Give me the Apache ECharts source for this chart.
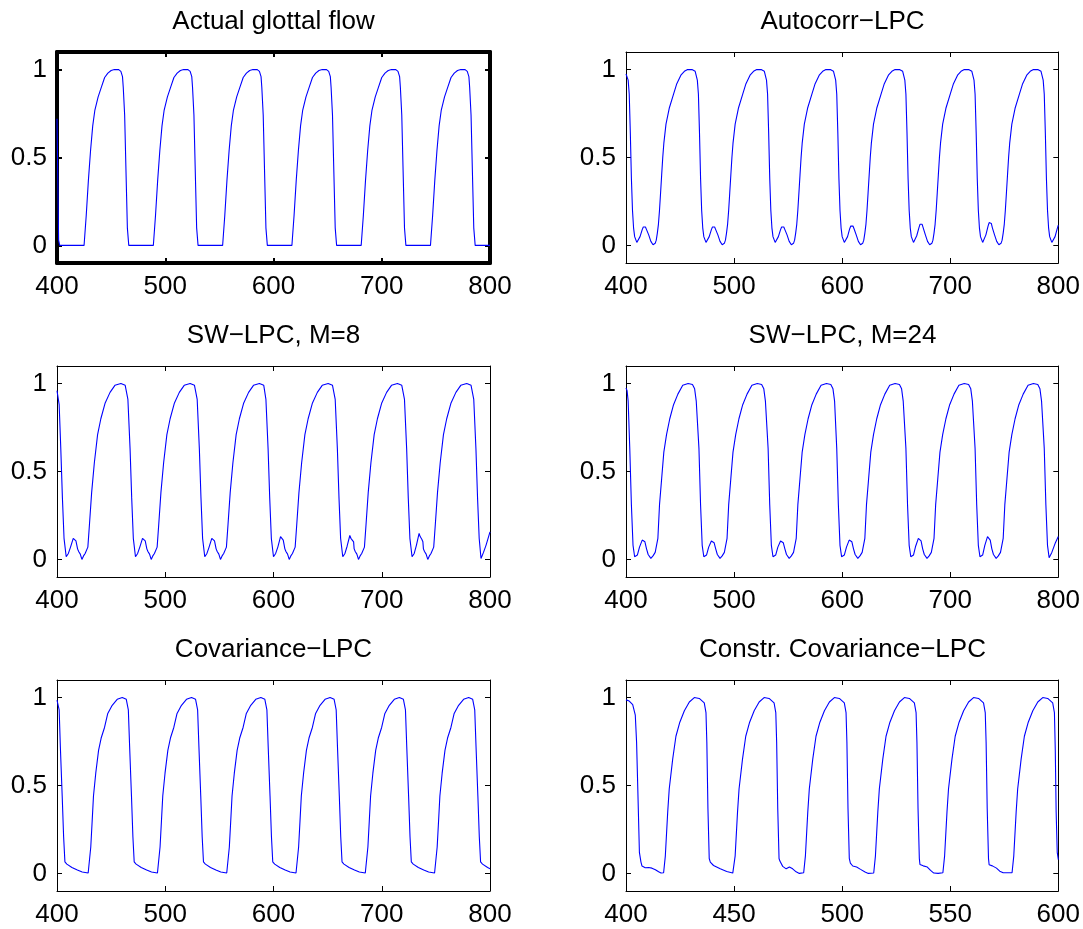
<!DOCTYPE html>
<html>
<head>
<meta charset="utf-8">
<script src="https://cdn.jsdelivr.net/npm/echarts@6/dist/echarts.min.js"></script>
<style>
    html, body { margin: 0; padding: 0; background: #ffffff; }
    #chart { width: 1083px; height: 929px; }
</style>
</head>
<body>
<div id="chart"></div>
<script>
    // titles and axis ranges of the six panels (row by row)
    const titles = ['Actual glottal flow', 'Autocorr\u2212LPC', 'SW\u2212LPC, M=8', 'SW\u2212LPC, M=24', 'Covariance\u2212LPC', 'Constr. Covariance\u2212LPC']
    const xRanges = [[400, 800], [400, 800], [400, 800], [400, 800], [400, 800], [400, 600]]
    const xIntervals = [100, 100, 100, 100, 100, 50]
    const yRange = [-0.1, 1.1]
    const yTickValues = [0, 0.5, 1]

    // [sample, value]
    const glottalFlow = [
        [400, 0.72], [401.5, 0.03], [402.5, 0],
        [425, 0], [427, 0.17], [429, 0.37], [431, 0.54], [433, 0.68], [435, 0.77], [438, 0.845], [441, 0.9], [444, 0.955], [447, 0.98], [450, 0.995], [453, 1], [457, 1], [459, 0.99], [460.5, 0.96], [461.2, 0.9], [462.5, 0.74], [463.7, 0.43], [465, 0.1], [466.3, 0],
        [489, 0], [491, 0.17], [493, 0.37], [495, 0.54], [497, 0.68], [499, 0.77], [502, 0.845], [505, 0.9], [508, 0.955], [511, 0.98], [514, 0.995], [517, 1], [521, 1], [523, 0.99], [524.5, 0.96], [525.2, 0.9], [526.5, 0.74], [527.7, 0.43], [529, 0.1], [530.3, 0],
        [553, 0], [555, 0.17], [557, 0.37], [559, 0.54], [561, 0.68], [563, 0.77], [566, 0.845], [569, 0.9], [572, 0.955], [575, 0.98], [578, 0.995], [581, 1], [585, 1], [587, 0.99], [588.5, 0.96], [589.2, 0.9], [590.5, 0.74], [591.7, 0.43], [593, 0.1], [594.3, 0],
        [617, 0], [619, 0.17], [621, 0.37], [623, 0.54], [625, 0.68], [627, 0.77], [630, 0.845], [633, 0.9], [636, 0.955], [639, 0.98], [642, 0.995], [645, 1], [649, 1], [651, 0.99], [652.5, 0.96], [653.2, 0.9], [654.5, 0.74], [655.7, 0.43], [657, 0.1], [658.3, 0],
        [681, 0], [683, 0.17], [685, 0.37], [687, 0.54], [689, 0.68], [691, 0.77], [694, 0.845], [697, 0.9], [700, 0.955], [703, 0.98], [706, 0.995], [709, 1], [713, 1], [715, 0.99], [716.5, 0.96], [717.2, 0.9], [718.5, 0.74], [719.7, 0.43], [721, 0.1], [722.3, 0],
        [745, 0], [747, 0.17], [749, 0.37], [751, 0.54], [753, 0.68], [755, 0.77], [758, 0.845], [761, 0.9], [764, 0.955], [767, 0.98], [770, 0.995], [773, 1], [777, 1], [779, 0.99], [780.5, 0.96], [781.2, 0.9], [782.5, 0.74], [783.7, 0.43], [785, 0.1], [786.3, 0],
        [800, 0]
    ]

    const autocorrLpc = [
        [400, 0.975], [402, 0.94], [403, 0.86],
        [404, 0.64], [405, 0.38], [406, 0.2], [407, 0.1], [408, 0.05], [410, 0.017], [411, 0.013], [413, 0.05], [415, 0.09], [416, 0.105], [417, 0.11], [418, 0.105], [419, 0.09], [420, 0.085], [421, 0.06], [423, 0.023], [425, 0.004], [427, 0.012], [428, 0.03], [429, 0.07], [430, 0.12], [431, 0.2], [432, 0.3], [433, 0.4], [434, 0.5], [435, 0.58], [437, 0.69], [440, 0.78], [444, 0.86], [447, 0.92], [451, 0.97], [454, 0.99], [457, 1], [461, 1], [464, 0.99], [466, 0.94], [467, 0.86],
        [468, 0.64], [469, 0.38], [470, 0.2], [471, 0.1], [472, 0.05], [474, 0.017], [475, 0.013], [477, 0.05], [479, 0.09], [480, 0.105], [481, 0.11], [482, 0.105], [483, 0.09], [484, 0.085], [485, 0.06], [487, 0.023], [489, 0.004], [491, 0.012], [492, 0.03], [493, 0.07], [494, 0.12], [495, 0.2], [496, 0.3], [497, 0.4], [498, 0.5], [499, 0.58], [501, 0.69], [504, 0.78], [508, 0.86], [511, 0.92], [515, 0.97], [518, 0.99], [521, 1], [525, 1], [528, 0.99], [530, 0.94], [531, 0.86],
        [532, 0.64], [533, 0.38], [534, 0.2], [535, 0.1], [536, 0.05], [538, 0.017], [539, 0.013], [541, 0.05], [543, 0.09], [544, 0.105], [545, 0.112], [546, 0.105], [547, 0.09], [548, 0.085], [549, 0.06], [551, 0.023], [553, 0.004], [555, 0.012], [556, 0.03], [557, 0.07], [558, 0.12], [559, 0.2], [560, 0.3], [561, 0.4], [562, 0.5], [563, 0.58], [565, 0.69], [568, 0.78], [572, 0.86], [575, 0.92], [579, 0.97], [582, 0.99], [585, 1], [589, 1], [592, 0.99], [594, 0.94], [595, 0.86],
        [596, 0.64], [597, 0.38], [598, 0.2], [599, 0.1], [600, 0.05], [602, 0.017], [603, 0.013], [605, 0.05], [607, 0.095], [608, 0.11], [609, 0.12], [610, 0.11], [611, 0.095], [612, 0.088], [613, 0.06], [615, 0.023], [617, 0.004], [619, 0.012], [620, 0.03], [621, 0.07], [622, 0.12], [623, 0.2], [624, 0.3], [625, 0.4], [626, 0.5], [627, 0.58], [629, 0.69], [632, 0.78], [636, 0.86], [639, 0.92], [643, 0.97], [646, 0.99], [649, 1], [653, 1], [656, 0.99], [658, 0.94], [659, 0.86],
        [660, 0.64], [661, 0.38], [662, 0.2], [663, 0.1], [664, 0.05], [666, 0.017], [667, 0.013], [669, 0.055], [671, 0.1], [672, 0.12], [673, 0.13], [674, 0.12], [675, 0.1], [676, 0.09], [677, 0.06], [679, 0.023], [681, 0.004], [683, 0.012], [684, 0.03], [685, 0.07], [686, 0.12], [687, 0.2], [688, 0.3], [689, 0.4], [690, 0.5], [691, 0.58], [693, 0.69], [696, 0.78], [700, 0.86], [703, 0.92], [707, 0.97], [710, 0.99], [713, 1], [717, 1], [720, 0.99], [722, 0.94], [723, 0.86],
        [724, 0.64], [725, 0.38], [726, 0.2], [727, 0.1], [728, 0.05], [730, 0.017], [731, 0.013], [733, 0.06], [735, 0.11], [736, 0.13], [737, 0.14], [738, 0.125], [739, 0.1], [740, 0.09], [741, 0.06], [743, 0.023], [745, 0.004], [747, 0.012], [748, 0.03], [749, 0.07], [750, 0.12], [751, 0.2], [752, 0.3], [753, 0.4], [754, 0.5], [755, 0.58], [757, 0.69], [760, 0.78], [764, 0.86], [767, 0.92], [771, 0.97], [774, 0.99], [777, 1], [781, 1], [784, 0.99], [786, 0.94], [787, 0.86],
        [788, 0.64], [789, 0.38], [790, 0.2], [791, 0.1], [792, 0.05], [794, 0.017], [795, 0.013], [797, 0.05], [799, 0.095], [800, 0.115]
    ]

    const swLpcM8 = [
        [400, 0.96], [402, 0.88],
        [403.5, 0.63], [405, 0.35], [406.5, 0.12], [408.5, 0.015], [410.5, 0.034], [412.5, 0.07], [415, 0.12], [416, 0.11], [416.5, 0.115], [417.5, 0.105], [418.5, 0.1], [419, 0.06], [420, 0.045], [420.5, 0.048], [421.5, 0.03], [422, 0.025], [423, 0], [424.5, 0.02], [426, 0.034], [428.5, 0.07], [430, 0.2], [432, 0.38], [434.5, 0.55], [437.5, 0.71], [440.5, 0.8], [444.5, 0.89], [449, 0.95], [453.5, 0.99], [459, 1], [463, 0.99], [465.5, 0.91],
        [467.5, 0.63], [469, 0.35], [470.5, 0.12], [472.5, 0.015], [474.5, 0.034], [476.5, 0.07], [479, 0.12], [480, 0.11], [480.5, 0.115], [481.5, 0.105], [482.5, 0.1], [483, 0.06], [484, 0.045], [484.5, 0.048], [485.5, 0.03], [486, 0.025], [487, 0], [488.5, 0.02], [490, 0.034], [492.5, 0.07], [494, 0.2], [496, 0.38], [498.5, 0.55], [501.5, 0.71], [504.5, 0.8], [508.5, 0.89], [513, 0.95], [517.5, 0.99], [523, 1], [527, 0.99], [529.5, 0.91],
        [531.5, 0.63], [533, 0.35], [534.5, 0.12], [536.5, 0.015], [538.5, 0.034], [540.5, 0.07], [543, 0.12], [544, 0.11], [544.5, 0.115], [545.5, 0.105], [546.5, 0.1], [547, 0.06], [548, 0.045], [548.5, 0.048], [549.5, 0.03], [550, 0.025], [551, 0], [552.5, 0.02], [554, 0.034], [556.5, 0.07], [558, 0.2], [560, 0.38], [562.5, 0.55], [565.5, 0.71], [568.5, 0.8], [572.5, 0.89], [577, 0.95], [581.5, 0.99], [587, 1], [591, 0.99], [593, 0.91],
        [595, 0.63], [596.5, 0.35], [598, 0.12], [600, 0.015], [602, 0.034], [604, 0.07], [606.5, 0.13], [607.5, 0.12], [608, 0.125], [609, 0.11], [610, 0.1], [610.5, 0.06], [611.5, 0.045], [612, 0.048], [613, 0.03], [613.5, 0.025], [614.5, 0], [616, 0.02], [617.5, 0.034], [620, 0.07], [621.5, 0.2], [623.5, 0.38], [626, 0.55], [629, 0.71], [632, 0.8], [636, 0.89], [640.5, 0.95], [645, 0.99], [650.5, 1], [654.5, 0.99], [657, 0.91],
        [659, 0.63], [660.5, 0.35], [662, 0.12], [664, 0.015], [666, 0.034], [668, 0.075], [670.5, 0.136], [671.5, 0.12], [672, 0.128], [673, 0.11], [674, 0.1], [674.5, 0.06], [675.5, 0.045], [676, 0.048], [677, 0.03], [677.5, 0.025], [678.5, 0], [680, 0.02], [681.5, 0.034], [684, 0.07], [685.5, 0.2], [687.5, 0.38], [690, 0.55], [693, 0.71], [696, 0.8], [700, 0.89], [704.5, 0.95], [709, 0.99], [714.5, 1], [718.5, 0.99], [721, 0.91],
        [723, 0.63], [724.5, 0.35], [726, 0.12], [728, 0.015], [730, 0.034], [732, 0.08], [734.5, 0.148], [735.5, 0.13], [736, 0.135], [737, 0.115], [738, 0.1], [738.5, 0.06], [739.5, 0.045], [740, 0.048], [741, 0.03], [741.5, 0.025], [742.5, 0], [744, 0.02], [745.5, 0.034], [748, 0.07], [749.5, 0.2], [751.5, 0.38], [754, 0.55], [757, 0.71], [760, 0.8], [764, 0.89], [768.5, 0.95], [773, 0.99], [778.5, 1], [782.5, 0.99], [785, 0.91],
        [787, 0.63], [788.5, 0.35], [790, 0.12], [791.7, 0.005], [794, 0.04], [796.3, 0.08], [798.5, 0.125], [800, 0.157]
    ]

    const swLpcM24 = [
        [400, 0.975], [401, 0.96], [402, 0.9],
        [403.5, 0.63], [405, 0.31], [406.5, 0.08], [408, 0.015], [410.5, 0.025], [412.5, 0.07], [415, 0.11], [416.5, 0.1], [417.5, 0.1], [419, 0.06], [420.5, 0.028], [423, 0.006], [425, 0.02], [427, 0.04], [428, 0.05], [429.5, 0.12], [431, 0.31], [433, 0.46], [435, 0.61], [437.5, 0.71], [440.5, 0.8], [444, 0.88], [448, 0.94], [452.5, 0.99], [457.5, 1], [461.5, 0.995], [463.5, 0.97], [465, 0.9],
        [467.5, 0.63], [469, 0.31], [470.5, 0.08], [472, 0.015], [474.5, 0.025], [476.5, 0.07], [479, 0.105], [480.5, 0.095], [481.5, 0.095], [483, 0.06], [484.5, 0.028], [487, 0.006], [489, 0.02], [491, 0.04], [492, 0.05], [493.5, 0.12], [495, 0.31], [497, 0.46], [499, 0.61], [501.5, 0.71], [504.5, 0.8], [508, 0.88], [512, 0.94], [516.5, 0.99], [521.5, 1], [525.5, 0.995], [527.5, 0.97], [529, 0.9],
        [531.5, 0.63], [533, 0.31], [534.5, 0.08], [536, 0.015], [538.5, 0.025], [540.5, 0.07], [543, 0.105], [544.5, 0.095], [545.5, 0.095], [547, 0.06], [548.5, 0.028], [551, 0.006], [553, 0.02], [555, 0.04], [556, 0.05], [557.5, 0.12], [559, 0.31], [561, 0.46], [563, 0.61], [565.5, 0.71], [568.5, 0.8], [572, 0.88], [576, 0.94], [580.5, 0.99], [585.5, 1], [589.5, 0.995], [591.5, 0.97], [593, 0.9],
        [595, 0.63], [596.5, 0.31], [598, 0.08], [599.5, 0.015], [602, 0.025], [604, 0.07], [606.5, 0.11], [608, 0.1], [609, 0.1], [610.5, 0.06], [612, 0.028], [614.5, 0.006], [616.5, 0.02], [618.5, 0.04], [619.5, 0.05], [621, 0.12], [622.5, 0.31], [624.5, 0.46], [626.5, 0.61], [629, 0.71], [632, 0.8], [635.5, 0.88], [639.5, 0.94], [644, 0.99], [649, 1], [653, 0.995], [655, 0.97], [656.5, 0.9],
        [659, 0.63], [660.5, 0.31], [662, 0.08], [663.5, 0.015], [666, 0.025], [668, 0.075], [670.5, 0.12], [672, 0.11], [673, 0.105], [674.5, 0.06], [676, 0.028], [678.5, 0.006], [680.5, 0.02], [682.5, 0.04], [683.5, 0.05], [685, 0.12], [686.5, 0.31], [688.5, 0.46], [690.5, 0.61], [693, 0.71], [696, 0.8], [699.5, 0.88], [703.5, 0.94], [708, 0.99], [713, 1], [717, 0.995], [719, 0.97], [720.5, 0.9],
        [723, 0.63], [724.5, 0.31], [726, 0.08], [727.5, 0.015], [730, 0.025], [732, 0.08], [734.5, 0.13], [736, 0.12], [737, 0.11], [738.5, 0.06], [740, 0.028], [742.5, 0.006], [744.5, 0.02], [746.5, 0.04], [747.5, 0.05], [749, 0.12], [750.5, 0.31], [752.5, 0.46], [754.5, 0.61], [757, 0.71], [760, 0.8], [763.5, 0.88], [767.5, 0.94], [772, 0.99], [777, 1], [781, 0.995], [783, 0.97], [784.5, 0.9],
        [787, 0.63], [788.5, 0.31], [790, 0.08], [791.5, 0.01], [794, 0.04], [797, 0.09], [800, 0.13]
    ]

    const covarianceLpc = [
        [400, 0.985], [402, 0.93], [403.1, 0.72],
        [404.8, 0.44], [406.1, 0.21], [407.3, 0.066], [409.1, 0.053], [413.8, 0.034], [418.8, 0.019], [423.3, 0.008], [428.8, 0.002], [430, 0.004], [431.2, 0.15], [432.5, 0.3], [433.7, 0.44], [435.8, 0.57], [438.4, 0.7], [440.8, 0.77], [443.9, 0.83], [446.9, 0.91], [451, 0.956], [455.6, 0.99], [460.3, 1], [464, 0.99], [465.9, 0.93], [467.1, 0.72],
        [468.8, 0.44], [470.1, 0.21], [471.3, 0.066], [473.1, 0.053], [477.8, 0.034], [482.8, 0.019], [487.3, 0.008], [492.8, 0.002], [494, 0.004], [495.2, 0.15], [496.5, 0.3], [497.7, 0.44], [499.8, 0.57], [502.4, 0.7], [504.8, 0.77], [507.9, 0.83], [510.9, 0.91], [515, 0.956], [519.6, 0.99], [524.3, 1], [528, 0.99], [529.9, 0.93], [531.1, 0.72],
        [532.8, 0.44], [534.1, 0.21], [535.3, 0.066], [537.1, 0.053], [541.8, 0.034], [546.8, 0.019], [551.3, 0.008], [556.8, 0.002], [558, 0.004], [559.2, 0.15], [560.5, 0.3], [561.7, 0.44], [563.8, 0.57], [566.4, 0.7], [568.8, 0.77], [571.9, 0.83], [574.9, 0.91], [579, 0.956], [583.6, 0.99], [588.3, 1], [592, 0.99], [593.9, 0.93], [595.1, 0.72],
        [596.8, 0.44], [598.1, 0.21], [599.3, 0.066], [601.1, 0.053], [605.8, 0.034], [610.8, 0.019], [615.3, 0.008], [620.8, 0.002], [622, 0.004], [623.2, 0.15], [624.5, 0.3], [625.7, 0.44], [627.8, 0.57], [630.4, 0.7], [632.8, 0.77], [635.9, 0.83], [638.9, 0.91], [643, 0.956], [647.6, 0.99], [652.3, 1], [656, 0.99], [657.9, 0.93], [659.1, 0.72],
        [660.8, 0.44], [662.1, 0.21], [663.3, 0.066], [665.1, 0.053], [669.8, 0.034], [674.8, 0.019], [679.3, 0.008], [684.8, 0.002], [686, 0.004], [687.2, 0.15], [688.5, 0.3], [689.7, 0.44], [691.8, 0.57], [694.4, 0.7], [696.8, 0.77], [699.9, 0.83], [702.9, 0.91], [707, 0.956], [711.6, 0.99], [716.3, 1], [720, 0.99], [721.9, 0.93], [723.1, 0.72],
        [724.8, 0.44], [726.1, 0.21], [727.3, 0.066], [729.1, 0.053], [733.8, 0.034], [738.8, 0.019], [743.3, 0.008], [748.8, 0.002], [750, 0.004], [751.2, 0.15], [752.5, 0.3], [753.7, 0.44], [755.8, 0.57], [758.4, 0.7], [760.8, 0.77], [763.9, 0.83], [766.9, 0.91], [771, 0.956], [775.6, 0.99], [780.3, 1], [784, 0.99], [785.9, 0.93], [787.1, 0.72],
        [788.8, 0.44], [790.1, 0.21], [791.3, 0.066], [793.1, 0.053], [797.8, 0.034], [800, 0.027]
    ]

    const constrCovarianceLpc = [
        [400, 0.987], [401.5, 0.98], [403.1, 0.96], [404.3, 0.9], [404.9, 0.745], [405.5, 0.46], [406.2, 0.12], [406.9, 0.066],
        [407.4, 0.042], [408.9, 0.032], [410.5, 0.034], [412, 0.03], [413.6, 0.021], [415.1, 0.009], [416.2, 0.002], [417.4, 0.004],
        [418.2, 0.1], [419.3, 0.35], [420, 0.48], [421.6, 0.65], [423.1, 0.78], [424.9, 0.86], [427, 0.925], [429.3, 0.975], [431.6, 1], [433.9, 0.995], [436.2, 0.97], [437, 0.915], [437.4, 0.745], [437.9, 0.37], [438.5, 0.085],
        [439, 0.064], [440.5, 0.045], [443.6, 0.026], [446.6, 0.011], [449.4, 0.002], [449.7, 0.004],
        [450.5, 0.1], [451.6, 0.35], [452.3, 0.48], [453.9, 0.65], [455.4, 0.78], [457.2, 0.86], [459.3, 0.925], [461.6, 0.975], [463.9, 1], [466.2, 0.995], [468.5, 0.97], [469.3, 0.915], [469.7, 0.745], [470.2, 0.37], [470.8, 0.085],
        [471.2, 0.07], [472.5, 0.04], [474.1, 0.026], [475.6, 0.036], [477.1, 0.026], [478.7, 0.009], [480.2, 0], [482.2, 0.004],
        [483, 0.1], [484.1, 0.35], [484.8, 0.48], [486.4, 0.65], [487.9, 0.78], [489.7, 0.86], [491.8, 0.925], [494.1, 0.975], [496.4, 1], [498.7, 0.995], [501, 0.97], [501.8, 0.915], [502.2, 0.745], [502.7, 0.37], [503.3, 0.085],
        [503.8, 0.059], [504.9, 0.042], [506.7, 0.036], [508.5, 0.023], [510.6, 0.008], [512.1, 0], [514.6, 0.002],
        [515.4, 0.1], [516.5, 0.35], [517.2, 0.48], [518.8, 0.65], [520.3, 0.78], [522.1, 0.86], [524.2, 0.925], [526.5, 0.975], [528.8, 1], [531.1, 0.995], [533.4, 0.97], [534.2, 0.915], [534.6, 0.745], [535.1, 0.37], [535.7, 0.085],
        [536, 0.051], [537.5, 0.043], [539.4, 0.036], [540.9, 0.017], [542.4, 0.002], [544.4, 0], [546.6, 0.004],
        [547.4, 0.1], [548.5, 0.35], [549.2, 0.48], [550.8, 0.65], [552.3, 0.78], [554.1, 0.86], [556.2, 0.925], [558.5, 0.975], [560.8, 1], [563.1, 0.995], [565.4, 0.97], [566.2, 0.915], [566.6, 0.745], [567.1, 0.37], [567.7, 0.085],
        [568, 0.049], [569.5, 0.043], [571.4, 0.03], [572.9, 0.013], [574.5, 0.004], [578.6, 0.004],
        [579.4, 0.1], [580.5, 0.35], [581.2, 0.48], [582.8, 0.65], [584.3, 0.78], [586.1, 0.86], [588.2, 0.925], [590.5, 0.975], [592.8, 1], [595.1, 0.995], [597.4, 0.97], [598.2, 0.915], [598.6, 0.7], [599, 0.35], [599.5, 0.12], [600, 0.078]
    ]

    const panelData = [glottalFlow, autocorrLpc, swLpcM8, swLpcM24, covarianceLpc, constrCovarianceLpc]

    // layout of the 3x2 grid of axes boxes
    const FONT = 'Liberation Sans, Arial, Helvetica, sans-serif'
    const colLeft = [57, 626]
    const rowTop = [52, 366, 680]
    const titleTop = [9, 323, 637]
    const boxW = 433
    const boxH = 211

    let grid = [], xAxis = [], yAxis = [], title = [], series = []

    panelData.forEach(function (data, i) {
        const col = i % 2
        const row = Math.floor(i / 2)
        // first panel is the "current" axes in the original figure: heavy frame
        const frameW = i === 0 ? 4 : 1
        const tickW = i === 0 ? 2 : 1

        grid.push({left: colLeft[col], top: rowTop[row], width: boxW, height: boxH, containLabel: false})

        title.push({
            text: titles[i],
            left: colLeft[col] + boxW / 2,
            top: titleTop[row],
            textAlign: 'center',
            padding: 0,
            textStyle: {fontFamily: FONT, fontSize: 26, fontWeight: 'normal', color: '#000'}
        })

        const lineStyle = {color: '#000', width: frameW}
        const tick = {show: true, inside: true, length: 5, lineStyle: {color: '#000', width: tickW}}

        ;['bottom', 'top'].forEach(function (pos) {
            xAxis.push({
                type: 'value',
                gridIndex: i,
                position: pos,
                min: xRanges[i][0],
                max: xRanges[i][1],
                interval: xIntervals[i],
                axisLine: {show: true, onZero: false, lineStyle: lineStyle},
                axisTick: tick,
                splitLine: {show: false},
                axisLabel: {
                    show: pos === 'bottom',
                    margin: 11,
                    showMinLabel: true,
                    showMaxLabel: true,
                    fontFamily: FONT,
                    fontSize: 26,
                    color: '#000'
                }
            })
        })

        ;['left', 'right'].forEach(function (pos) {
            yAxis.push({
                type: 'value',
                gridIndex: i,
                position: pos,
                min: yRange[0],
                max: yRange[1],
                axisLine: {show: true, onZero: false, lineStyle: lineStyle},
                axisTick: Object.assign({customValues: yTickValues}, tick),
                splitLine: {show: false},
                axisLabel: {
                    show: pos === 'left',
                    customValues: yTickValues,
                    margin: 10,
                    fontFamily: FONT,
                    fontSize: 26,
                    color: '#000'
                }
            })
        })

        series.push({
            type: 'line',
            name: titles[i],
            xAxisIndex: i * 2,
            yAxisIndex: i * 2,
            data: data,
            showSymbol: false,
            symbol: 'none',
            clip: true,
            lineStyle: {color: '#0000ff', width: 1.1},
            emphasis: {disabled: true}
        })
    })

    const chart = echarts.init(document.getElementById('chart'))
    chart.setOption({
        backgroundColor: '#ffffff',
        animation: false,
        title: title,
        grid: grid,
        xAxis: xAxis,
        yAxis: yAxis,
        series: series
    })
</script>
</body>
</html>
